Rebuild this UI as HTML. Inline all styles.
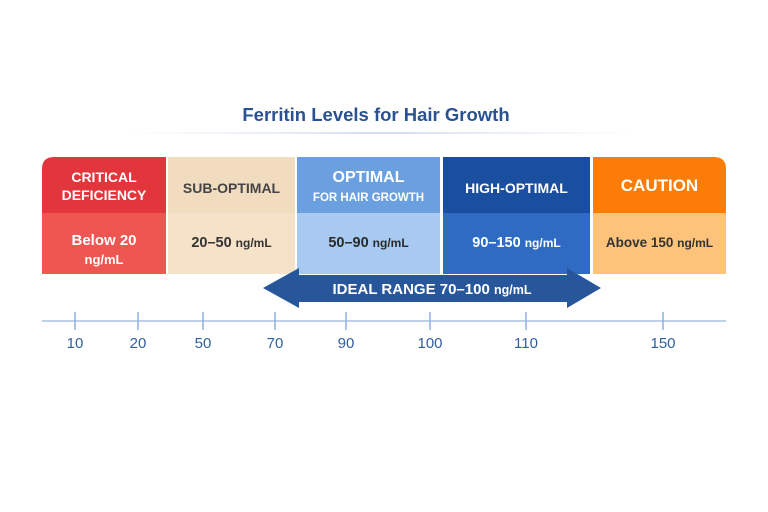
<!DOCTYPE html>
<html><head><meta charset="utf-8">
<style>
html,body{margin:0;padding:0;background:#fff;}
svg{display:block;font-family:"Liberation Sans",sans-serif;}
</style></head>
<body>
<svg id="chart" width="768" height="512" viewBox="0 0 768 512">
<defs>
<linearGradient id="ul" x1="0" x2="1"><stop offset="0" stop-color="#dde4f3" stop-opacity="0"/><stop offset="0.5" stop-color="#d4ddf0"/><stop offset="1" stop-color="#dde4f3" stop-opacity="0"/></linearGradient>
</defs>
<text x="376" y="121" text-anchor="middle" font-size="18.5" font-weight="bold" fill="#2a5290">Ferritin Levels for Hair Growth</text>
<rect x="125" y="132" width="515" height="2" fill="url(#ul)"/>
<g id="segs"></g>
<g id="arrow"></g>
<g id="axis"></g>
</svg>
<script>
const segNames=["CRITICAL|DEFICIENCY","SUB-OPTIMAL","OPTIMAL","HIGH-OPTIMAL","CAUTION"];
const segRanges=["Below 20","20–50","50–90","90–150","Above 150"];
const tickValues=[10,20,50,70,90,100,110,150];
const idealRange=[70,100];
// piecewise axis scale (value -> x)
const scaleDomain=[10,20,50,70,90,100,110,150];
const scaleRange=[75,138,203,275,346,430,526,663];
function xScale(v){
  for(let i=0;i<scaleDomain.length-1;i++){
    if(v<=scaleDomain[i+1]||i===scaleDomain.length-2){
      const t=(v-scaleDomain[i])/(scaleDomain[i+1]-scaleDomain[i]);
      return scaleRange[i]+t*(scaleRange[i+1]-scaleRange[i]);
    }
  }
}
const NS="http://www.w3.org/2000/svg";
function mk(tag,attrs,parent){const e=document.createElementNS(NS,tag);for(const k in attrs)e.setAttribute(k,attrs[k]);parent.appendChild(e);return e;}
const segs=document.getElementById('segs');
const bounds=[[42,166],[168,295],[297,440],[443,590],[593,726]];
const topC=["#e2363c","#f1dcc0","#6a9fe0","#1a4fa0","#fb7d08"];
const botC=["#ee5651","#f5e2c8","#a9caf0","#2f6bc2","#fdc37a"];
const txtTop=["#fff","#444","#fff","#fff","#fff"];
const txtBot=["#fff","#333","#2a2a2a","#fff","#333"];
segNames.forEach((n,i)=>{
  const [x0,x1]=bounds[i];const w=x1-x0;
  const g=mk('g',{},segs);
  
  
  let d;
  if(i===0)d=`M${x0},213 V169 Q${x0},157 ${x0+12},157 H${x1} V213Z`;
  else if(i===4)d=`M${x0},213 V157 H${x1-12} Q${x1},157 ${x1},169 V213Z`;
  else d=`M${x0},157 H${x1} V213 H${x0}Z`;
  mk('path',{d:d,fill:topC[i]},g);
  mk('rect',{x:x0,y:213,width:w,height:61,fill:botC[i]},g);
  const cx=(x0+x1)/2;
  if(i===0){
    const t=mk('text',{x:cx,y:182,'text-anchor':'middle','font-size':14,'font-weight':'bold',fill:txtTop[i]},g);t.textContent="CRITICAL";
    const t2=mk('text',{x:cx,y:200,'text-anchor':'middle','font-size':14,'font-weight':'bold',fill:txtTop[i]},g);t2.textContent="DEFICIENCY";
  }else if(i===2){
    const t=mk('text',{x:cx,y:182,'text-anchor':'middle','font-size':16,'font-weight':'bold',fill:txtTop[i]},g);t.textContent="OPTIMAL";
    const t2=mk('text',{x:cx,y:201,'text-anchor':'middle','font-size':11.5,'font-weight':'bold',fill:txtTop[i]},g);t2.textContent="FOR HAIR GROWTH";
  }else{
    const t=mk('text',{x:cx,y:i===4?191:193,'text-anchor':'middle','font-size':i===4?17:14,'font-weight':'bold',fill:txtTop[i]},g);t.textContent=n;
  }
  if(i===0){
    const t=mk('text',{x:cx,y:245,'text-anchor':'middle','font-size':15,'font-weight':'bold',fill:txtBot[i]},g);t.textContent=segRanges[i];
    const t2=mk('text',{x:cx,y:264,'text-anchor':'middle','font-size':13,'font-weight':'bold',fill:txtBot[i]},g);t2.textContent="ng/mL";
  }else{
    const t=mk('text',{x:cx,y:247,'text-anchor':'middle','font-size':i===4?13.5:14.5,'font-weight':'bold',fill:txtBot[i]},g);
    t.textContent=segRanges[i]+" ";
    const s=mk('tspan',{'font-size':12},t);s.textContent="ng/mL";
  }
});
// arrow
const ag=document.getElementById('arrow');
const ax0=xScale(idealRange[0])-12, ax1=xScale(idealRange[1])+171;
const ar=mk('path',{d:`M${ax0},288 L${ax0+36},268 V275 H${ax1-34} V268 L${ax1},288 L${ax1-34},308 V302 H${ax0+36} V308Z`,fill:"#27579a"},ag);


const at=mk('text',{x:(ax0+ax1)/2,y:294,'text-anchor':'middle','font-size':15,'font-weight':'bold',fill:'#fff'},ag);


at.textContent="IDEAL RANGE "+idealRange[0]+"–"+idealRange[1]+" ";
const ats=mk('tspan',{'font-size':12.5},at);ats.textContent="ng/mL";
// axis
const axg=document.getElementById('axis');
const al=mk('line',{x1:42,x2:726,y1:321,y2:321,stroke:'#a9c1e3','stroke-width':1.5},axg);


tickValues.forEach(v=>{
  const x=xScale(v);
  const tk=mk('line',{x1:x,x2:x,y1:312,y2:330,stroke:'#8fb0dc','stroke-width':1.5},axg);
  
  
  const tl=mk('text',{x:x,y:348,'text-anchor':'middle','font-size':15,fill:'#2f5f9f'},axg);
  
  
  tl.textContent=v;
});
</script>
</body></html>
